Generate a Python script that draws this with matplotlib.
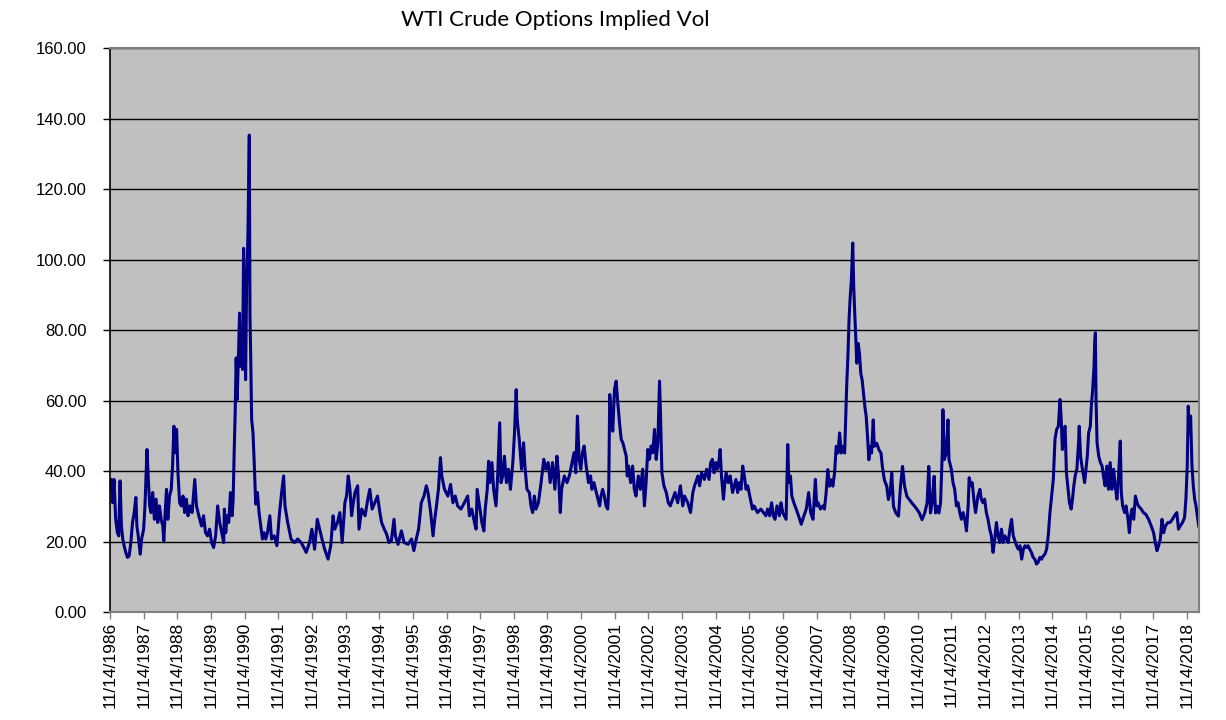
import matplotlib
matplotlib.use('Agg')

import numpy as np
import matplotlib.pyplot as plt

# (decimal year, implied vol), grouped by era
era_1986_1990 = [
    (1986.87, 34.8), (1986.91, 37.6), (1986.95, 31.0), (1986.99, 37.6), (1987.04, 26.3),
    (1987.09, 22.5), (1987.13, 21.6), (1987.17, 37.2), (1987.21, 24.4), (1987.25, 20.7),
    (1987.29, 18.8), (1987.34, 16.9), (1987.39, 15.5), (1987.44, 15.9), (1987.49, 19.7),
    (1987.54, 25.4), (1987.59, 28.2), (1987.64, 32.5), (1987.67, 24.4), (1987.71, 21.6),
    (1987.77, 16.4), (1987.81, 20.7), (1987.87, 23.5), (1987.91, 30.1), (1987.97, 46.1),
    (1988.01, 37.6), (1988.05, 30.1), (1988.09, 28.2), (1988.14, 33.9), (1988.19, 26.3),
    (1988.24, 32.0), (1988.29, 25.4), (1988.34, 30.1), (1988.39, 26.3), (1988.44, 24.4),
    (1988.47, 20.2), (1988.51, 28.2), (1988.55, 34.8), (1988.59, 26.3), (1988.64, 32.9),
    (1988.69, 34.8), (1988.73, 41.4), (1988.77, 52.7), (1988.81, 45.2), (1988.85, 51.8),
    (1988.89, 39.5), (1988.94, 31.0), (1988.99, 30.1), (1989.04, 32.9), (1989.09, 28.2),
    (1989.14, 32.0), (1989.19, 27.3), (1989.24, 30.1), (1989.31, 28.2), (1989.39, 37.6),
    (1989.44, 30.1), (1989.51, 27.3), (1989.59, 24.4), (1989.65, 27.3), (1989.71, 22.5),
    (1989.77, 21.6), (1989.83, 23.5), (1989.89, 19.7), (1989.95, 18.3), (1990.01, 21.6),
    (1990.07, 30.1), (1990.13, 25.4), (1990.19, 22.5), (1990.25, 19.7),
]

era_1990_1993 = [
    (1990.27, 29.2), (1990.31, 22.5), (1990.35, 27.3), (1990.40, 25.4), (1990.45, 33.9),
    (1990.50, 27.3), (1990.53, 32.0), (1990.56, 45.2), (1990.59, 56.5), (1990.62, 72.1),
    (1990.65, 60.3), (1990.69, 73.5), (1990.72, 84.8), (1990.75, 69.7), (1990.78, 79.2),
    (1990.81, 68.8), (1990.84, 103.2), (1990.87, 86.7), (1990.90, 65.9), (1990.93, 92.4),
    (1990.97, 107.5), (1991.01, 135.3), (1991.03, 83.9), (1991.05, 73.5), (1991.08, 54.6),
    (1991.12, 50.8), (1991.16, 41.4), (1991.20, 30.6), (1991.25, 33.9), (1991.30, 28.2),
    (1991.35, 24.4), (1991.40, 20.7), (1991.45, 22.5), (1991.50, 20.7), (1991.55, 22.5),
    (1991.62, 27.3), (1991.67, 20.7), (1991.75, 21.6), (1991.83, 18.8), (1991.90, 27.3),
    (1991.97, 33.9), (1992.03, 38.6), (1992.07, 30.1), (1992.15, 25.4), (1992.25, 20.7),
    (1992.35, 19.7), (1992.45, 20.7), (1992.55, 19.7), (1992.63, 18.3), (1992.70, 16.9),
    (1992.80, 19.7), (1992.87, 23.5), (1992.95, 17.8), (1993.03, 26.3), (1993.10, 23.5),
    (1993.17, 20.7), (1993.25, 17.8), (1993.35, 15.0), (1993.43, 18.8), (1993.50, 27.3),
    (1993.55, 23.5), (1993.63, 25.4), (1993.70, 28.2), (1993.77, 19.7), (1993.85, 31.0),
]

era_1993_1997 = [
    (1993.90, 32.9), (1993.95, 38.6), (1994.00, 34.8), (1994.05, 27.3), (1994.10, 31.0),
    (1994.15, 33.9), (1994.23, 35.8), (1994.27, 23.5), (1994.35, 29.2), (1994.45, 27.3),
    (1994.53, 32.0), (1994.59, 34.8), (1994.66, 29.2), (1994.74, 31.0), (1994.82, 32.9),
    (1994.89, 28.2), (1994.94, 25.4), (1995.02, 23.5), (1995.09, 22.1), (1995.16, 19.7),
    (1995.23, 20.2), (1995.31, 26.3), (1995.35, 21.6), (1995.43, 19.2), (1995.53, 23.0),
    (1995.61, 19.7), (1995.73, 19.2), (1995.83, 20.7), (1995.90, 17.4), (1995.97, 20.7),
    (1996.04, 23.5), (1996.12, 31.0), (1996.20, 32.9), (1996.27, 35.8), (1996.32, 33.9),
    (1996.40, 28.2), (1996.47, 21.6), (1996.52, 26.3), (1996.56, 29.2), (1996.63, 34.8),
    (1996.69, 43.8), (1996.73, 38.6), (1996.81, 34.8), (1996.91, 32.9), (1996.99, 36.2),
    (1997.06, 31.0), (1997.13, 32.9), (1997.20, 30.1), (1997.30, 29.2), (1997.40, 31.0),
]

era_1997_2001 = [
    (1997.50, 32.9), (1997.55, 27.3), (1997.62, 29.2), (1997.70, 25.4), (1997.75, 23.5),
    (1997.78, 34.8), (1997.85, 30.1), (1997.92, 25.4), (1997.98, 23.0), (1998.02, 29.2),
    (1998.08, 34.8), (1998.12, 42.8), (1998.16, 36.7), (1998.22, 42.4), (1998.27, 34.8),
    (1998.34, 30.1), (1998.39, 38.6), (1998.45, 53.7), (1998.49, 36.7), (1998.54, 38.6),
    (1998.59, 44.2), (1998.65, 36.7), (1998.71, 40.5), (1998.77, 34.8), (1998.84, 42.4),
    (1998.89, 50.8), (1998.94, 63.1), (1998.97, 54.6), (1999.03, 49.0), (1999.10, 40.5),
    (1999.16, 48.0), (1999.20, 41.4), (1999.26, 34.8), (1999.33, 33.9), (1999.38, 30.1),
    (1999.43, 28.2), (1999.48, 32.9), (1999.53, 29.2), (1999.60, 31.0), (1999.68, 36.7),
    (1999.76, 43.3), (1999.82, 40.5), (1999.89, 42.4), (1999.95, 36.7), (2000.02, 42.4),
    (2000.09, 34.8), (2000.15, 44.2), (2000.20, 38.6), (2000.25, 28.2), (2000.29, 34.8),
    (2000.37, 38.6), (2000.45, 36.7), (2000.52, 38.6), (2000.58, 41.4), (2000.66, 45.2),
    (2000.71, 39.5), (2000.76, 55.6), (2000.81, 43.3), (2000.86, 40.5), (2000.91, 45.2),
    (2000.96, 47.1),
]

era_2001_2004 = [
    (2001.02, 41.4), (2001.09, 36.7), (2001.15, 38.6), (2001.19, 34.8), (2001.25, 36.7),
    (2001.32, 33.9), (2001.37, 32.0), (2001.42, 30.1), (2001.46, 32.9), (2001.51, 34.8),
    (2001.56, 32.9), (2001.61, 30.1), (2001.66, 29.2), (2001.69, 34.8), (2001.72, 61.7),
    (2001.76, 56.0), (2001.81, 51.3), (2001.86, 63.1), (2001.91, 65.5), (2001.96, 59.3),
    (2002.01, 53.7), (2002.06, 49.0), (2002.11, 48.0), (2002.16, 46.1), (2002.21, 44.2),
    (2002.24, 38.6), (2002.28, 41.4), (2002.34, 36.7), (2002.40, 41.4), (2002.45, 34.8),
    (2002.50, 32.9), (2002.57, 38.6), (2002.63, 34.8), (2002.70, 40.5), (2002.75, 30.1),
    (2002.80, 36.7), (2002.85, 46.1), (2002.90, 43.3), (2002.95, 47.1), (2003.00, 45.2),
    (2003.05, 51.8), (2003.10, 43.3), (2003.15, 48.0), (2003.20, 65.5), (2003.23, 55.6),
    (2003.27, 39.5), (2003.33, 35.8), (2003.40, 33.9), (2003.46, 31.0), (2003.52, 30.1),
    (2003.59, 32.0), (2003.66, 33.9), (2003.74, 31.0), (2003.82, 35.8), (2003.89, 30.1),
    (2003.94, 32.9), (2004.04, 31.0), (2004.12, 28.2), (2004.19, 33.9), (2004.24, 35.8),
    (2004.34, 38.6), (2004.39, 35.8), (2004.45, 39.5), (2004.53, 37.6),
]

era_2004_2008 = [
    (2004.60, 40.5), (2004.67, 37.6), (2004.72, 42.4), (2004.77, 43.3), (2004.82, 39.5),
    (2004.87, 42.4), (2004.92, 40.5), (2004.97, 43.3), (2005.00, 46.1), (2005.04, 38.6),
    (2005.10, 32.0), (2005.14, 36.7), (2005.18, 39.5), (2005.24, 36.7), (2005.30, 38.6),
    (2005.37, 33.9), (2005.42, 35.8), (2005.47, 37.6), (2005.52, 33.9), (2005.57, 36.7),
    (2005.62, 34.8), (2005.67, 41.4), (2005.72, 38.6), (2005.77, 34.8), (2005.82, 35.8),
    (2005.90, 32.0), (2005.96, 29.2), (2006.01, 30.1), (2006.11, 28.2), (2006.21, 29.2),
    (2006.29, 28.2), (2006.36, 27.3), (2006.41, 29.2), (2006.47, 27.3), (2006.53, 31.0),
    (2006.58, 27.3), (2006.63, 26.3), (2006.69, 30.1), (2006.76, 27.3), (2006.81, 31.0),
    (2006.86, 28.2), (2006.96, 26.3), (2007.01, 47.5), (2007.04, 36.7), (2007.09, 38.6),
    (2007.13, 32.9), (2007.19, 31.0), (2007.26, 29.2), (2007.33, 27.3), (2007.41, 24.9),
    (2007.49, 27.3), (2007.56, 29.2), (2007.63, 33.9), (2007.69, 28.2), (2007.76, 26.3),
    (2007.83, 37.6), (2007.87, 30.1), (2007.91, 31.0), (2007.98, 29.2), (2008.05, 30.1),
    (2008.10, 29.2),
]

era_2008_2011 = [
    (2008.15, 33.8), (2008.20, 40.4), (2008.25, 35.7), (2008.30, 37.5), (2008.35, 35.7),
    (2008.40, 39.4), (2008.45, 47.0), (2008.50, 45.1), (2008.55, 50.8), (2008.60, 45.1),
    (2008.65, 47.0), (2008.70, 45.1), (2008.73, 54.5), (2008.76, 64.0), (2008.80, 73.4),
    (2008.83, 82.8), (2008.86, 88.5), (2008.90, 94.2), (2008.94, 104.7), (2008.97, 92.3),
    (2009.00, 84.7), (2009.03, 78.1), (2009.06, 70.6), (2009.10, 76.2), (2009.14, 73.4),
    (2009.18, 67.7), (2009.22, 65.8), (2009.26, 62.1), (2009.30, 58.3), (2009.34, 55.5),
    (2009.38, 49.8), (2009.42, 43.2), (2009.46, 47.0), (2009.50, 45.1), (2009.55, 54.5),
    (2009.58, 47.0), (2009.65, 47.9), (2009.72, 46.0), (2009.78, 45.1), (2009.82, 41.3),
    (2009.88, 37.5), (2009.95, 35.7), (2010.00, 31.9), (2010.05, 33.8), (2010.10, 39.4),
    (2010.15, 30.0), (2010.22, 28.1), (2010.30, 27.2), (2010.36, 35.7), (2010.42, 41.3),
    (2010.48, 35.7), (2010.55, 32.8), (2010.62, 31.9), (2010.70, 30.9), (2010.78, 30.0),
    (2010.85, 29.1), (2010.92, 28.1), (2011.00, 26.2), (2011.08, 28.1), (2011.15, 30.9),
    (2011.20, 41.3), (2011.25, 28.1), (2011.30, 30.9), (2011.36, 38.5), (2011.40, 28.1),
    (2011.45, 30.0), (2011.50, 28.1), (2011.55, 30.9), (2011.60, 45.1), (2011.62, 57.4),
    (2011.66, 43.2), (2011.72, 45.1), (2011.77, 54.5), (2011.80, 43.2),
]

era_2011_2015 = [
    (2011.82, 42.4), (2011.87, 40.5), (2011.92, 36.7), (2011.97, 34.8), (2012.02, 30.1),
    (2012.07, 31.0), (2012.12, 28.2), (2012.17, 26.3), (2012.22, 28.2), (2012.27, 26.3),
    (2012.32, 23.0), (2012.37, 30.1), (2012.40, 38.1), (2012.45, 35.8), (2012.49, 36.7),
    (2012.55, 31.0), (2012.59, 28.2), (2012.63, 31.0), (2012.66, 32.9), (2012.72, 34.8),
    (2012.76, 32.0), (2012.81, 31.0), (2012.86, 32.0), (2012.91, 28.2), (2012.96, 26.3),
    (2013.01, 23.5), (2013.06, 21.6), (2013.11, 16.9), (2013.16, 20.7), (2013.21, 25.4),
    (2013.26, 21.6), (2013.31, 19.7), (2013.36, 23.5), (2013.41, 19.7), (2013.46, 21.6),
    (2013.51, 20.7), (2013.56, 19.7), (2013.61, 23.5), (2013.66, 26.3), (2013.71, 21.6),
    (2013.76, 20.2), (2013.81, 18.8), (2013.86, 17.8), (2013.91, 18.8), (2013.96, 15.0),
    (2014.01, 17.8), (2014.06, 18.8), (2014.11, 18.3), (2014.15, 18.8), (2014.20, 17.8),
    (2014.25, 16.9), (2014.30, 15.5), (2014.35, 15.0), (2014.40, 13.6), (2014.45, 14.1),
    (2014.50, 15.5), (2014.55, 15.0), (2014.60, 15.9), (2014.65, 16.4), (2014.70, 17.8),
    (2014.75, 21.6), (2014.80, 28.2), (2014.85, 32.9), (2014.90, 37.6), (2014.95, 49.0),
    (2015.00, 51.8), (2015.05, 52.7), (2015.10, 60.3), (2015.13, 55.6), (2015.17, 46.1),
    (2015.20, 50.8), (2015.25, 52.7),
]

era_2015_2019 = [
    (2015.29, 39.5), (2015.34, 34.8), (2015.38, 31.0), (2015.43, 29.2), (2015.47, 32.0),
    (2015.51, 35.8), (2015.55, 38.6), (2015.60, 40.5), (2015.65, 48.0), (2015.67, 52.7),
    (2015.71, 44.2), (2015.75, 41.4), (2015.80, 38.6), (2015.83, 36.7), (2015.87, 40.5),
    (2015.91, 44.2), (2015.95, 50.8), (2016.00, 52.7), (2016.03, 58.4), (2016.07, 63.1),
    (2016.11, 69.7), (2016.13, 76.3), (2016.15, 79.2), (2016.17, 60.3), (2016.20, 48.0),
    (2016.25, 44.2), (2016.30, 42.4), (2016.35, 41.4), (2016.39, 38.6), (2016.44, 35.8),
    (2016.49, 41.4), (2016.54, 34.8), (2016.59, 42.4), (2016.64, 34.8), (2016.69, 40.5),
    (2016.74, 35.8), (2016.79, 32.0), (2016.84, 38.6), (2016.89, 48.5), (2016.92, 33.9),
    (2016.96, 30.1), (2017.02, 28.2), (2017.06, 30.1), (2017.12, 26.3), (2017.16, 22.5),
    (2017.20, 27.3), (2017.24, 29.2), (2017.29, 26.3), (2017.34, 32.9), (2017.39, 31.0),
    (2017.43, 30.1), (2017.51, 29.2), (2017.58, 28.2), (2017.65, 27.7), (2017.73, 26.3),
    (2017.81, 24.4), (2017.88, 22.5), (2017.93, 19.7), (2017.98, 17.4), (2018.03, 18.8),
    (2018.08, 20.7), (2018.13, 26.3), (2018.18, 22.5), (2018.23, 24.4), (2018.31, 25.4),
    (2018.37, 25.4), (2018.44, 26.3), (2018.50, 27.3), (2018.57, 28.2), (2018.62, 23.5),
    (2018.67, 24.4), (2018.74, 25.4), (2018.80, 26.8), (2018.84, 32.0), (2018.88, 41.4),
    (2018.91, 58.4), (2018.94, 50.8), (2018.98, 55.6), (2019.02, 41.4), (2019.06, 35.8),
    (2019.10, 32.0), (2019.14, 30.1), (2019.18, 27.3), (2019.22, 24.4),
]

tick_years = list(range(1986, 2019))
y_ticks    = [0, 20, 40, 60, 80, 100, 120, 140, 160]
title      = "WTI Crude Options Implied Vol"

############################################################################
series = np.array(era_1986_1990 + era_1990_1993 + era_1993_1997 + era_1997_2001 +
                  era_2001_2004 + era_2004_2008 + era_2008_2011 + era_2011_2015 +
                  era_2015_2019)
t, vol = series[:, 0], series[:, 1]

plt.rcParams['font.family'] = ['Liberation Sans', 'DejaVu Sans']

fig = plt.figure(figsize=(12.26, 7.2), dpi=100)
ax  = fig.add_axes([0.0897, 0.15, 0.8883, 0.7833])
ax.set_facecolor('#c0c0c0')

ax.plot(t, vol, color='#000080', lw=2.2, solid_joinstyle='round')

ax.set_ylim(0, 160)
ax.set_xlim(1986.87, 2019.23)
ax.set_yticks(y_ticks)
ax.set_yticklabels(["%.2f" % v for v in y_ticks])
ax.yaxis.grid(True, color='black', lw=1.0)
ax.set_axisbelow(True)

# Nov 14 of each year
ax.set_xticks([y + 0.87 for y in tick_years])
ax.set_xticklabels(["11/14/%d" % y for y in tick_years], rotation=90)

ax.tick_params(axis='y', direction='out', length=5, width=1, pad=12, labelsize=12)
ax.tick_params(axis='x', direction='out', length=5, width=1, pad=2, labelsize=12.5, color='#808080')

for side in ['top', 'right']:
  ax.spines[side].set_color('#808080')
  ax.spines[side].set_linewidth(1.5)
ax.spines['left'].set_color('black')
ax.spines['bottom'].set_color('#808080')
ax.spines['left'].set_linewidth(1.2)
ax.spines['bottom'].set_linewidth(1.5)

fig.text(0.453, 0.972, title, ha='center', va='center', fontsize=16, family=['Lato', 'DejaVu Sans'])

fig.savefig('out.png', dpi=100)
